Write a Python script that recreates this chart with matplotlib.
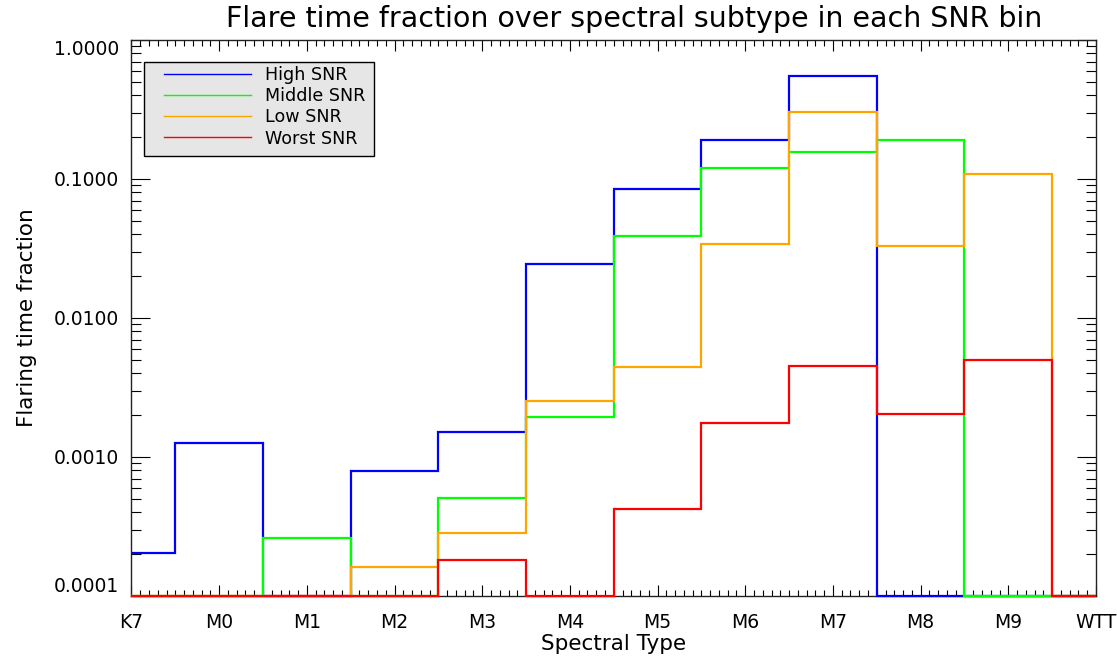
import numpy as np
import matplotlib.pyplot as plt
from matplotlib.patches import Rectangle
from matplotlib.ticker import MultipleLocator, LogLocator, NullFormatter

# spectral subtype bins
spectral_types = ['K7', 'M0', 'M1', 'M2', 'M3', 'M4', 'M5', 'M6', 'M7', 'M8', 'M9', 'WTT']

# flaring time fraction per subtype, one list per SNR bin (0 = no flares)
high_snr = [2.05e-4, 1.26e-3, 0, 7.9e-4, 1.51e-3, 0.0245, 0.0848, 0.191, 0.551, 0, 0, 0]
middle_snr = [0, 0, 2.61e-4, 0, 5.07e-4, 1.94e-3, 0.0389, 0.1205, 0.157, 0.191, 0, 0]
low_snr = [0, 0, 0, 1.62e-4, 2.85e-4, 2.53e-3, 4.44e-3, 0.0339, 0.305, 0.033, 0.109, 0]
worst_snr = [0, 0, 0, 0, 1.81e-4, 0, 4.23e-4, 1.77e-3, 4.54e-3, 2.04e-3, 4.99e-3, 0]

yticks = [1e-4, 1e-3, 1e-2, 1e-1, 1.0]

series = [
    ('High SNR', high_snr, '#0000ff'),
    ('Middle SNR', middle_snr, '#00ff00'),
    ('Low SNR', low_snr, '#ffa500'),
    ('Worst SNR', worst_snr, '#ff0000'),
]

ymin, ymax = yticks[0], yticks[-1]
n = len(spectral_types)
# bins centred on each subtype, outer bins cut at the plot edges
edges = np.concatenate([[0], np.arange(0.5, n - 1, 1.0), [n - 1]])

plt.rcParams['font.family'] = 'DejaVu Sans'

fig = plt.figure(figsize=(11.17, 6.62), dpi=100)
ax = fig.add_axes([0.1177, 0.0997, 0.8635, 0.8399])

for label, vals, color in series:
    v = np.maximum(np.array(vals, dtype=float), ymin)
    ax.stairs(v, edges, baseline=None, color=color, lw=1.6, clip_on=False, zorder=3)
    ax.plot([], [], color=color, lw=1.0, label=label)

ax.set_yscale('log')

ax.set_xticks(np.arange(n))
ax.set_xticklabels(spectral_types)
ax.xaxis.set_minor_locator(MultipleLocator(0.1))

ax.set_yticks(yticks)
ax.set_yticklabels(['%.4f' % t for t in yticks])
ax.yaxis.set_minor_locator(LogLocator(base=10, subs=np.arange(2, 10), numticks=20))
ax.yaxis.set_minor_formatter(NullFormatter())
# keep the end labels inside the frame
ylabels = ax.get_yticklabels()
ylabels[0].set_va('bottom')
ylabels[-1].set_va('top')

ax.set_xlim(0, n - 1)
ax.set_ylim(ymin, ymax)
ax.autoscale(False)

ax.tick_params(axis='x', which='major', direction='in', length=8, width=0.8,
               top=True, labelsize=13.5, pad=12)
ax.tick_params(axis='x', which='minor', direction='in', length=4.5, width=0.8, top=True)
ax.tick_params(axis='y', which='major', direction='in', length=14, width=0.8,
               right=True, labelsize=13.5, pad=9)
ax.tick_params(axis='y', which='minor', direction='in', length=7, width=0.8, right=True)

for s in ax.spines.values():
    s.set_linewidth(1.0)
    s.set_color('#222222')

ax.set_title('Flare time fraction over spectral subtype in each SNR bin',
             fontsize=20.5, x=0.521, pad=9)
ax.set_xlabel('Spectral Type', fontsize=15.5, labelpad=2)
ax.set_ylabel('Flaring time fraction', fontsize=15.5, labelpad=12)

# legend box drawn separately so the padding can be set per side
ax.add_patch(Rectangle((0.013, 0.7914), 0.2384, 0.169, transform=ax.transAxes,
                       facecolor='#e6e6e6', edgecolor='black', lw=1.0, zorder=4))
ax.legend(loc='upper left', bbox_to_anchor=(0.0337, 0.953), borderaxespad=0,
          borderpad=0, frameon=False, fontsize=12.6, handlelength=5.0,
          handletextpad=0.8, labelspacing=0.18)

fig.savefig('out.png', dpi=100)
